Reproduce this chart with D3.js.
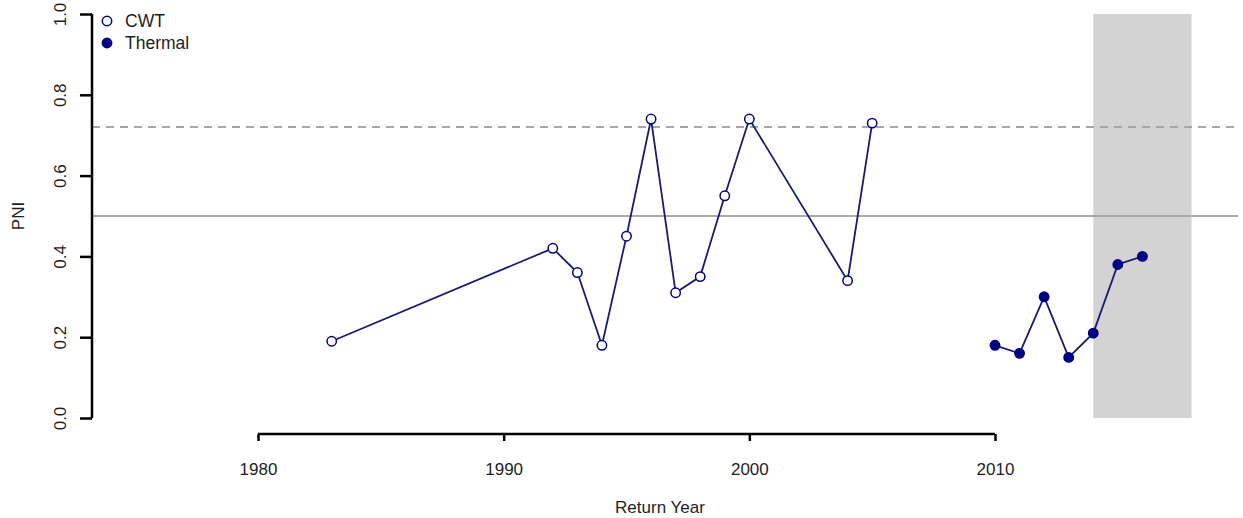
<!DOCTYPE html>
<html>
<head>
<meta charset="utf-8">
<script src="https://cdn.jsdelivr.net/npm/d3@7"></script>
<style>
  html, body { margin: 0; padding: 0; background: #fff; }
  svg { display: block; font-family: "Liberation Sans", Arial, sans-serif; }
  svg text { font-family: "Liberation Sans", Arial, sans-serif; }
</style>
</head>
<body>
<svg id="chart" width="1243" height="518"></svg>
<script>
// PNI by return year, coded-wire-tag vs thermal-mark estimates
const cwtYears = [1983, 1992, 1993, 1994, 1995, 1996, 1997, 1998, 1999, 2000, 2004, 2005];
const cwtPNI   = [0.19, 0.42, 0.36, 0.18, 0.45, 0.74, 0.31, 0.35, 0.55, 0.74, 0.34, 0.73];
const thermalYears = [2010, 2011, 2012, 2013, 2014, 2015, 2016];
const thermalPNI   = [0.18, 0.16, 0.30, 0.15, 0.21, 0.38, 0.40];
const xTicks = [1980, 1990, 2000, 2010];
const yTicks = [0.0, 0.2, 0.4, 0.6, 0.8, 1.0];
const refLines = [{ value: 0.72, dashed: true }, { value: 0.5, dashed: false }];
const shadedYears = [2014, 2018];
const legendItems = [{ label: "CWT", filled: false }, { label: "Thermal", filled: true }];

const navy = "#000080";
const textColor = "#1e1e1e";
const fontSize = "17px";
const svg = d3.select("#chart");

const x = d3.scaleLinear().domain([1980, 2010]).range([258, 995]);
const y = d3.scaleLinear().domain([0, 1]).range([418, 14]);
const plotLeft = 92, plotRight = 1238;

// shaded period
svg.append("rect")
  .attr("x", x(shadedYears[0]))
  .attr("y", y(1))
  .attr("width", x(shadedYears[1]) - x(shadedYears[0]))
  .attr("height", y(0) - y(1))
  .attr("fill", "#d3d3d3");

// reference lines
svg.selectAll("line.ref").data(refLines).join("line")
  .attr("class", "ref")
  .attr("x1", plotLeft).attr("x2", plotRight)
  .attr("y1", d => y(d.value)).attr("y2", d => y(d.value))
  .attr("stroke", d => d.dashed ? "#a6a6a6" : "#a9a9a9")
  .attr("stroke-width", 2)
  .attr("stroke-dasharray", d => d.dashed ? "8,6" : null);

// y axis: ticks from the axis generator, labels rotated like base R
const gy = svg.append("g").attr("transform", `translate(${plotLeft},0)`)
  .call(d3.axisLeft(y).tickValues(yTicks).tickFormat("").tickSize(12));
gy.select(".domain").attr("d", `M0,${y(1)}V${y(0)}`)
  .attr("stroke", "#000").attr("stroke-width", 2.5);
gy.selectAll(".tick line").attr("stroke", "#000").attr("stroke-width", 2.5);
gy.selectAll(".tick text").remove();
gy.selectAll(".tick").append("text")
  .attr("transform", "rotate(-90)")
  .attr("x", 0).attr("y", -26)
  .attr("text-anchor", "middle")
  .style("font-size", fontSize).style("fill", textColor)
  .text(d => d3.format(".1f")(d));

// x axis
const gx = svg.append("g").attr("transform", "translate(0,434)")
  .call(d3.axisBottom(x).tickValues(xTicks).tickFormat("").tickSize(7));
gx.select(".domain").attr("d", `M${x(1980)},0H${x(2010)}`)
  .attr("stroke", "#000").attr("stroke-width", 2.5);
gx.selectAll(".tick line").attr("stroke", "#000").attr("stroke-width", 2.5);
gx.selectAll(".tick text").remove();
gx.selectAll(".tick").append("text")
  .attr("y", 41)
  .attr("text-anchor", "middle")
  .style("font-size", fontSize).style("fill", textColor)
  .text(d => d3.format("d")(d));

// axis titles
svg.append("text").attr("x", 660).attr("y", 513).attr("text-anchor", "middle")
  .style("font-size", fontSize).style("fill", textColor).text("Return Year");
svg.append("text").attr("transform", "translate(24,216) rotate(-90)")
  .attr("text-anchor", "middle")
  .style("font-size", fontSize).style("fill", textColor).text("PNI");

// series
const line = d3.line().x(d => x(d[0])).y(d => y(d[1]));
const cwt = cwtYears.map((yr, i) => [yr, cwtPNI[i]]);
const thermal = thermalYears.map((yr, i) => [yr, thermalPNI[i]]);

[[cwt, false], [thermal, true]].forEach(([pts, filled]) => {
  svg.append("path").datum(pts).attr("d", line)
    .attr("fill", "none").attr("stroke", "#1a1a70").attr("stroke-width", 1.8);
  svg.append("g").selectAll("circle").data(pts).join("circle")
    .attr("cx", d => x(d[0])).attr("cy", d => y(d[1]))
    .attr("r", 4.7)
    .attr("fill", filled ? navy : "#fff")
    .attr("stroke", navy).attr("stroke-width", 1.5);
});

// legend
const lg = svg.append("g").selectAll("g").data(legendItems).join("g")
  .attr("transform", (d, i) => `translate(107,${21 + i * 22})`);
lg.append("circle").attr("r", 4.7)
  .attr("fill", d => d.filled ? navy : "#fff")
  .attr("stroke", navy).attr("stroke-width", 1.5);
lg.append("text").attr("x", 18).attr("dy", "0.35em")
  .style("font-size", "17.5px").style("fill", textColor).text(d => d.label);
</script>
</body>
</html>
